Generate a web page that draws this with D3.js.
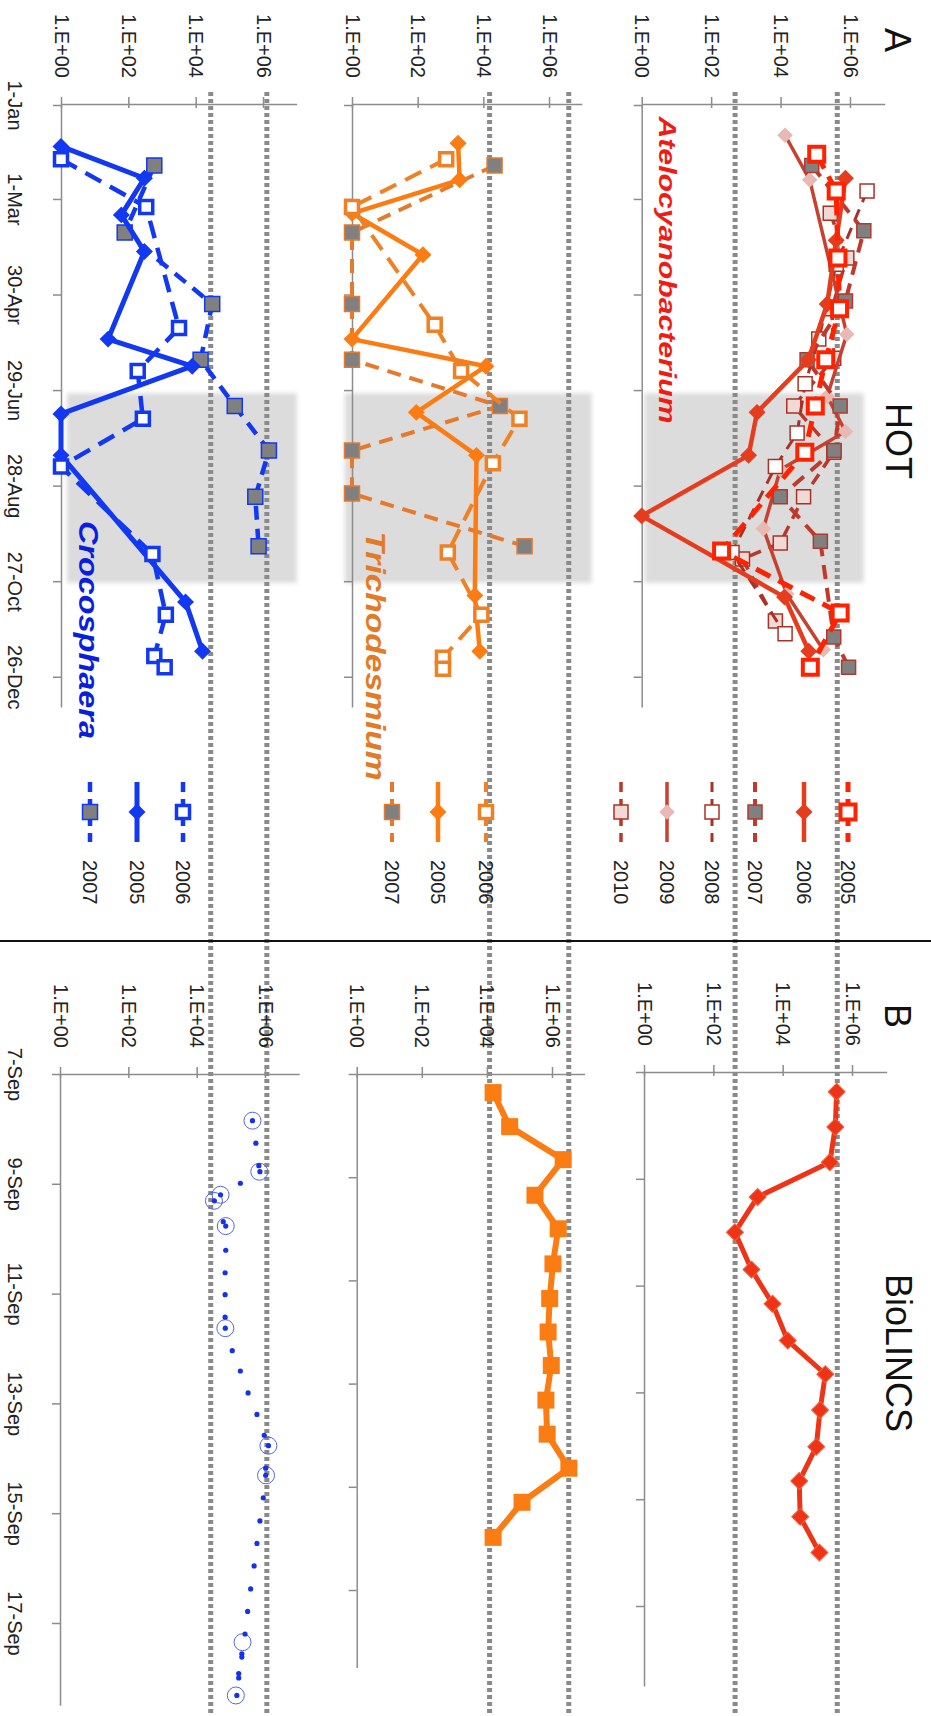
<!DOCTYPE html>
<html>
<head>
<meta charset="utf-8">
<script src="https://cdn.jsdelivr.net/npm/d3@7"></script>
<style>
  body { margin: 0; background: #fff; }
  text { font-family: "Liberation Sans", Arial, sans-serif; }
</style>
</head>
<body>
<script>
var w = 931;
var h = 1716;

// ---- axis ticks ----
var valueTicks = [1, 1e2, 1e4, 1e6];
var valueTickLabels = ["1.E+00", "1.E+02", "1.E+04", "1.E+06"];
var hotTickDays = [0, 59, 119, 179, 239, 299, 359];
var hotTickLabels = ["1-Jan", "1-Mar", "30-Apr", "29-Jun", "28-Aug", "27-Oct", "26-Dec"];
var bioTickDays = [0, 2, 4, 6, 8, 10];
var bioTickLabels = ["7-Sep", "9-Sep", "11-Sep", "13-Sep", "15-Sep", "17-Sep"];
var shadeDays = [181, 300];

// dotted reference levels (copies per L)
var crocoLimits = [2.8e4, 1.3e6];
var trichoLimits = [1.55e4, 4.0e6];
var ucynLimits = [490, 4.3e5];

// ---- HOT, Crocosphaera (day of year, abundance) ----
var crocoDays2005 = [26, 46, 69, 92, 147, 164, 194, 220, 312, 343];
var crocoVals2005 = [1, 300, 62, 300, 25, 7900, 1, 1, 5000, 16000];
var crocoDays2006 = [34, 64, 140, 167, 197, 227, 282, 320, 346, 353];
var crocoVals2006 = [1, 340, 3200, 190, 270, 1, 520, 1300, 590, 1200];
var crocoDays2007 = [38, 80, 125, 160, 189, 217, 246, 277];
var crocoVals2007 = [590, 78, 31000, 14000, 145000, 1500000, 590000, 740000];

// ---- HOT, Trichodesmium ----
var trichoDays2005 = [24, 47, 68, 94, 147, 164, 193, 220, 308, 343];
var trichoVals2005 = [1700, 1900, 1, 145, 1, 12000, 91, 6200, 5500, 7800];
var trichoDays2006 = [34, 64, 138, 167, 197, 225, 281, 320, 347, 354];
var trichoVals2006 = [740, 1, 330, 2100, 126000, 19500, 830, 8700, 590, 590];
var trichoDays2007 = [38, 80, 125, 160, 189, 217, 244, 277];
var trichoVals2007 = [22000, 1, 1, 1, 32000, 1, 1, 180000];

// ---- HOT, Atelocyanobacterium ----
var ucynDays2005 = [31, 54, 96, 128, 160, 189, 218, 280, 319, 353];
var ucynVals2005 = [110000, 400000, 450000, 500000, 200000, 100000, 50000, 200, 520000, 72000];
var ucynDays2006 = [46, 85, 125, 160, 193, 220, 258, 309, 343];
var ucynVals2006 = [740000, 400000, 220000, 63000, 2100, 1200, 1, 13000, 65000];
var ucynDays2007 = [38, 79, 123, 160, 189, 217, 246, 274, 334, 353];
var ucynVals2007 = [79000, 2500000, 740000, 58000, 520000, 350000, 9800, 140000, 340000, 910000];
var ucynDays2008 = [54, 100, 147, 175, 206, 227, 281, 332];
var ucynVals2008 = [3100000, 400000, 126000, 51000, 30000, 7100, 400, 13500];
var ucynDays2009 = [19, 47, 144, 183, 205, 229, 266, 307, 342];
var ucynVals2009 = [13500, 69000, 810000, 220000, 740000, 9800, 3200, 15000, 170000];
var ucynDays2010 = [68, 96, 128, 159, 189, 218, 246, 275, 285, 324];
var ucynVals2010 = [270000, 810000, 300000, 340000, 24000, 340000, 46000, 9800, 800, 7100];

// ---- BioLINCS (days after 7-Sep) ----
var bioCrocoDays = [0.85, 1.26, 1.67, 1.78, 1.99, 2.20, 2.31, 2.69, 2.77, 3.21, 3.62, 4.02, 4.43, 4.63, 5.04, 5.41, 5.81,
  6.20, 6.58, 6.77, 7.18, 7.31, 7.72, 8.14, 8.55, 8.96, 9.38, 9.79, 10.20, 10.56, 10.62, 10.92, 11.0, 11.32];
var bioCrocoVals = [430000, 540000, 660000, 710000, 190000, 50000, 33000, 60000, 71000, 71000, 68000, 68000, 68000, 69000,
  110000, 190000, 320000, 580000, 950000, 1260000, 1050000, 1050000, 890000, 710000, 580000, 480000, 380000, 310000,
  260000, 210000, 210000, 170000, 170000, 150000];
var bioCrocoRingDays = [0.85, 1.78, 2.20, 2.31, 2.77, 4.63, 6.77, 7.31, 10.35, 11.32];
var bioCrocoRingVals = [430000, 680000, 50000, 32000, 71000, 69000, 1260000, 1070000, 220000, 140000];
var bioTrichoDays = [0.36, 1.02, 1.66, 2.35, 3.0, 3.68, 4.35, 5.0, 5.65, 6.32, 6.98, 7.64, 8.3, 8.98];
var bioTrichoVals = [15500, 50000, 2200000, 300000, 1550000, 1070000, 850000, 760000, 950000, 650000, 710000, 3300000, 120000, 15500];
var bioUcynDays = [0.37, 1.03, 1.69, 2.34, 3.0, 3.70, 4.34, 5.03, 5.66, 6.33, 7.02, 7.66, 8.33, 9.0];
var bioUcynVals = [360000, 330000, 230000, 1900, 420, 1260, 5100, 14000, 170000, 120000, 93000, 30000, 32000, 115000];

var axisColor = "#8c8c8c";
var blue = "#1238f2", orange = "#fb7c12", red = "#ee3416";

var svg = d3.select("body").append("svg")
  .attr("width", w)
  .attr("height", h);

// soft edge for the shaded window
svg.append("defs").append("filter")
  .attr("id", "soft")
  .append("feGaussianBlur")
  .attr("stdDeviation", 2);

function pts(days, vals) {
  return days.map(function(d, i) { return { t: d, v: vals[i] }; });
}

function vtext(parent, x, y, str, anchor) {
  return parent.append("text")
    .attr("transform", "translate(" + x + "," + y + ") rotate(90)")
    .attr("text-anchor", anchor || "middle")
    .attr("dominant-baseline", "central")
    .text(str);
}

function marker(parent, s, x, y) {
  var side = s.msize;
  parent.append("path")
    .attr("d", d3.symbol(d3.symbolSquare, side * side)())
    .attr("transform", "translate(" + x + "," + y + ")" + (s.marker === "diamond" ? " rotate(45)" : ""))
    .attr("fill", s.fill)
    .attr("stroke", s.mstroke || "none")
    .attr("stroke-width", s.mstrokeWidth || 0);
}

function valueAxis(g, x, yPos) {
  var ax = d3.axisTop(x)
    .tickValues(valueTicks)
    .tickFormat(function(d) { return valueTickLabels[valueTicks.indexOf(d)]; })
    .tickSizeOuter(0)
    .tickSizeInner(7);
  var a = g.append("g").attr("transform", "translate(0," + yPos + ")").call(ax);
  a.attr("font-family", null).attr("font-size", null);
  a.select(".domain").attr("stroke", axisColor).attr("stroke-width", 1.5);
  a.selectAll(".tick line").attr("stroke", axisColor).attr("stroke-width", 1.5).attr("y1", 4);
  a.selectAll(".tick text")
    .attr("x", null).attr("y", null).attr("dy", null)
    .attr("transform", "translate(0,-26) rotate(90)")
    .attr("text-anchor", "end")
    .attr("dominant-baseline", "central")
    .attr("font-size", 20)
    .attr("fill", "#222");
}

function dateAxis(g, y, xPos, ticks, labels, showLabels) {
  var ax = d3.axisLeft(y)
    .tickValues(ticks)
    .tickFormat(function(d) { return showLabels ? labels[ticks.indexOf(d)] : ""; })
    .tickSizeOuter(0)
    .tickSizeInner(8);
  var a = g.append("g").attr("transform", "translate(" + xPos + ",0)").call(ax);
  a.attr("font-family", null).attr("font-size", null);
  a.select(".domain").attr("stroke", axisColor).attr("stroke-width", 1.5);
  a.selectAll(".tick line").attr("stroke", axisColor).attr("stroke-width", 1.5);
  a.selectAll(".tick text")
    .attr("x", null).attr("dy", null)
    .attr("transform", "translate(" + (15 - xPos) + ",0) rotate(90)")
    .attr("text-anchor", "middle")
    .attr("dominant-baseline", "central")
    .attr("font-size", 20)
    .attr("fill", "#222");
}

function drawSeries(g, x, y, s) {
  var data = pts(s.days, s.vals);
  var line = d3.line()
    .x(function(d) { return x(d.v); })
    .y(function(d) { return y(d.t); });
  g.append("path")
    .datum(data)
    .attr("d", line)
    .attr("fill", "none")
    .attr("stroke", s.color)
    .attr("stroke-width", s.width)
    .attr("stroke-dasharray", s.dash || null)
    .attr("stroke-linejoin", "round");
  data.forEach(function(d) { marker(g, s, x(d.v), y(d.t)); });
}

// ---- HOT panels ----
var hotY = d3.scaleLinear().domain([0, 378]).range([105, 707]);

var hotPanels = [
  {
    x0: 61, x6: 263, shade: [1.5, 1e7], limits: crocoLimits, dates: true,
    label: { text: "Crocosphaera", x: 88, y: 630, len: 218, size: 27, color: "#0a1ee0", weight: "bold" },
    legendX: [90, 137, 183],
    series: [
      { year: "2007", days: crocoDays2007, vals: crocoVals2007, color: blue, width: 4.5, dash: "14,9", marker: "square", msize: 15, fill: "#808080", mstroke: blue, mstrokeWidth: 1.5 },
      { year: "2005", days: crocoDays2005, vals: crocoVals2005, color: blue, width: 5, dash: null, marker: "diamond", msize: 12, fill: blue },
      { year: "2006", days: crocoDays2006, vals: crocoVals2006, color: blue, width: 4.5, dash: "18,10", marker: "square", msize: 13, fill: "#fff", mstroke: blue, mstrokeWidth: 3.5 }
    ]
  },
  {
    x0: 352, x6: 549, shade: [0.6, 2e7], limits: trichoLimits, dates: false,
    label: { text: "Trichodesmium", x: 375, y: 656, len: 249, size: 28, color: "#e27a26", weight: "600" },
    legendX: [392, 438, 486],
    series: [
      { year: "2007", days: trichoDays2007, vals: trichoVals2007, color: "#e5792c", width: 4, dash: "14,9", marker: "square", msize: 15, fill: "#808080", mstroke: "#e5792c", mstrokeWidth: 1.5 },
      { year: "2005", days: trichoDays2005, vals: trichoVals2005, color: orange, width: 4.5, dash: null, marker: "diamond", msize: 12, fill: orange },
      { year: "2006", days: trichoDays2006, vals: trichoVals2006, color: "#f08024", width: 4, dash: "18,10", marker: "square", msize: 13, fill: "#fff", mstroke: "#f08024", mstrokeWidth: 3.5 }
    ]
  },
  {
    x0: 641.7, x6: 850, shade: [1.2, 2.5e6], limits: ucynLimits, dates: false,
    label: { text: "Atelocyanobacterium", x: 667, y: 270, len: 307, size: 23, color: "#f01c14", weight: "bold" },
    legendX: [621, 667, 712, 755, 804, 848],
    series: [
      { year: "2010", days: ucynDays2010, vals: ucynVals2010, color: "#b8392b", width: 3.5, dash: "12,8", marker: "square", msize: 14, fill: "#f3d9d6", mstroke: "#a93226", mstrokeWidth: 1.5 },
      { year: "2009", days: ucynDays2009, vals: ucynVals2009, color: "#c8402e", width: 3.5, dash: null, marker: "diamond", msize: 11, fill: "#e8b8b4" },
      { year: "2008", days: ucynDays2008, vals: ucynVals2008, color: "#a93226", width: 3, dash: "12,8", marker: "square", msize: 14, fill: "#fff", mstroke: "#a93226", mstrokeWidth: 1.5 },
      { year: "2007", days: ucynDays2007, vals: ucynVals2007, color: "#c0392b", width: 4, dash: "14,9", marker: "square", msize: 14, fill: "#808080", mstroke: "#b03a2e", mstrokeWidth: 1.5 },
      { year: "2006", days: ucynDays2006, vals: ucynVals2006, color: "#e63c1e", width: 4.5, dash: null, marker: "diamond", msize: 12, fill: "#e63c1e" },
      { year: "2005", days: ucynDays2005, vals: ucynVals2005, color: "#ff2200", width: 5, dash: "16,9", marker: "square", msize: 15, fill: "#fff", mstroke: "#ff2200", mstrokeWidth: 4 }
    ]
  }
];

var back = svg.append("g");
var dots = svg.append("g");
var front = svg.append("g");

hotPanels.forEach(function(p) {
  var x = d3.scaleLog().domain([1, 1e7]).range([p.x0, p.x0 + (p.x6 - p.x0) * 7 / 6]);

  // shaded summer window
  back.append("rect")
    .attr("x", x(p.shade[0]))
    .attr("width", x(p.shade[1]) - x(p.shade[0]))
    .attr("y", hotY(shadeDays[0]))
    .attr("height", hotY(shadeDays[1]) - hotY(shadeDays[0]))
    .attr("fill", "#dcdcdc")
    .attr("filter", "url(#soft)");

  // dotted levels run through both sections
  p.limits.forEach(function(v) {
    dots.append("line")
      .attr("x1", x(v)).attr("x2", x(v))
      .attr("y1", 92).attr("y2", h)
      .attr("stroke", "#8a8a8a")
      .attr("stroke-width", 5)
      .attr("stroke-dasharray", "4,3");
  });

  valueAxis(front, x, 104);
  dateAxis(front, hotY, p.x0, hotTickDays, hotTickLabels, p.dates);

  p.series.forEach(function(s) { drawSeries(front, x, hotY, s); });

  // legend
  p.series.forEach(function(s, i) {
    var lx = p.legendX[i];
    front.append("line")
      .attr("x1", lx).attr("x2", lx)
      .attr("y1", 782).attr("y2", 842)
      .attr("stroke", s.color)
      .attr("stroke-width", s.width)
      .attr("stroke-dasharray", s.dash ? "10,7" : null);
    marker(front, s, lx, 812);
    vtext(front, lx, 860, s.year, "start").attr("font-size", 20).attr("fill", "#222");
  });

  vtext(front, p.label.x, p.label.y, p.label.text)
    .attr("font-family", "Lato, 'Open Sans', sans-serif")
    .attr("font-style", "italic")
    .attr("font-weight", p.label.weight)
    .attr("font-size", p.label.size)
    .attr("fill", p.label.color)
    .attr("textLength", p.label.len)
    .attr("lengthAdjust", "spacingAndGlyphs");
});

// divider between HOT and BioLINCS
front.append("line")
  .attr("x1", 0).attr("x2", w)
  .attr("y1", 941).attr("y2", 941)
  .attr("stroke", "#111")
  .attr("stroke-width", 2);

// ---- BioLINCS panels ----
var bioPanels = [
  { x0: 60, x6: 265, y0: 1074, perDay: 54.9, dates: true },
  { x0: 356.7, x6: 552, y0: 1074, perDay: 51.6, dates: false },
  { x0: 644, x6: 852, y0: 1072, perDay: 53.4, dates: false }
];

bioPanels.forEach(function(p, k) {
  var x = d3.scaleLog().domain([1, 1e7]).range([p.x0, p.x0 + (p.x6 - p.x0) * 7 / 6]);
  var y = d3.scaleLinear().domain([0, 11.5]).range([p.y0, p.y0 + 11.5 * p.perDay]);
  valueAxis(front, x, p.y0);
  dateAxis(front, y, p.x0, bioTickDays, bioTickLabels, p.dates);

  if (k === 0) {
    front.selectAll(null)
      .data(pts(bioCrocoRingDays, bioCrocoRingVals))
      .enter().append("circle")
      .attr("cx", function(d) { return x(d.v); })
      .attr("cy", function(d) { return y(d.t); })
      .attr("r", 8.5)
      .attr("fill", "none")
      .attr("stroke", "#5566dd")
      .attr("stroke-width", 1);
    front.selectAll(null)
      .data(pts(bioCrocoDays, bioCrocoVals))
      .enter().append("circle")
      .attr("cx", function(d) { return x(d.v); })
      .attr("cy", function(d) { return y(d.t); })
      .attr("r", 2.6)
      .attr("fill", "#1532e8");
  } else if (k === 1) {
    drawSeries(front, x, y, { days: bioTrichoDays, vals: bioTrichoVals, color: orange, width: 6, marker: "square", msize: 17, fill: orange });
  } else {
    drawSeries(front, x, y, { days: bioUcynDays, vals: bioUcynVals, color: red, width: 5, marker: "diamond", msize: 12, fill: red, mstroke: "#f06040", mstrokeWidth: 1 });
  }
});

// ---- section titles ----
vtext(front, 897, 40, "A").attr("font-size", 36).attr("fill", "#111");
vtext(front, 898, 441, "HOT").attr("font-size", 36).attr("fill", "#111");
vtext(front, 897, 1016, "B").attr("font-size", 36).attr("fill", "#111");
vtext(front, 898, 1353, "BioLINCS").attr("font-size", 36).attr("fill", "#111");
</script>
</body>
</html>
